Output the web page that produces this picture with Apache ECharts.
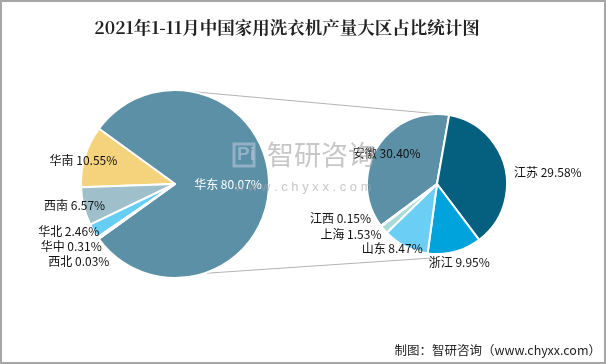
<!DOCTYPE html>
<html><head><meta charset="utf-8">
<script src="https://cdn.jsdelivr.net/npm/echarts@6/dist/echarts.min.js"></script>
<style>html,body{margin:0;padding:0;background:#fff}#c{width:606px;height:364px}</style>
</head><body><div id="c"></div>
<script>
const titleText = '2021年1-11月中国家用洗衣机产量大区占比统计图';
const regionNames = ['华东','华南','西南','华北','华中','西北'];
const regionValues = [80.07,10.55,6.57,2.46,0.31,0.03];
const provNames = ['安徽','江苏','浙江','山东','上海','江西'];
const provValues = [30.40,29.58,9.95,8.47,1.53,0.15];
const sourceText = '制图：智研咨询（www.chyxx.com）';

const regionColors = ['#5B90A6','#F5D27C','#9FBFCB','#66CDF3','#6FA8C8','#9CC3CF'];
const provColors = ['#5B90A6','#05607F','#00A3DC','#6BCEF5','#A8DCD8','#8CC8E0'];
// per-label nudges (layout only)
const regionNudge = [[3,0],[36,5],[27,-2],[17,-2],[16,-1],[19,0]];
const provNudge = [[-18,-11],[0,6],[-32,7],[24,-8],[-2,-8],[-3,-10]];

const L = {cx:175, cy:184, r:94};
const R = {cx:437, cy:184, r:70};
const W = {x:233, y:141};

const fontCJK = '"Microsoft YaHei","Noto Sans CJK SC",sans-serif';

function sum(a){return a.reduce((s,v)=>s+v,0);}
const startL = 144 + (sum(regionValues)-regionValues[0])/sum(regionValues)*360;
const startR = 80 + provValues[0]/sum(provValues)*360;

const chart = echarts.init(document.getElementById('c'));
const lblFmt = p => p.name + ' ' + p.value.toFixed(2) + '%';
function pt(c, ang){ const a = ang*Math.PI/180; return [c.cx + c.r*Math.cos(a), c.cy - c.r*Math.sin(a)]; }
const a1 = pt(L,79), a2 = pt(L,-72), b1 = pt(R,88), b2 = [R.cx-5, R.cy+R.r+4];
const wm = 'rgba(165,165,165,0.62)', wmBlue = 'rgba(185,200,220,0.6)';

chart.setOption({
  animation:false,
  title:{text:titleText,left:282,top:14,textAlign:'center',
    textStyle:{fontFamily:'"SimSun","Noto Serif CJK SC","Liberation Serif",serif',fontSize:17.5,fontWeight:'bold',color:'#222'}},
  graphic:[
    {type:'rect',shape:{x:1,y:1,width:604,height:362},style:{fill:'none',stroke:'#a6a6a6',lineWidth:2},z:-10},
    {type:'line',shape:{x1:a1[0],y1:a1[1],x2:b1[0],y2:b1[1]},style:{stroke:'#b3b3b3',lineWidth:1},z:-5},
    {type:'line',shape:{x1:a2[0],y1:a2[1],x2:b2[0],y2:b2[1]},style:{stroke:'#b3b3b3',lineWidth:1},z:-5},
    {type:'rect',zlevel:2,z:100,shape:{x:W.x+1,y:W.y+3,width:20,height:22},style:{fill:'none',stroke:wmBlue,lineWidth:3}},
    {type:'text',zlevel:2,z:100,x:W.x+4,y:W.y+4,style:{text:'Pi',font:'bold 19px sans-serif',fill:wmBlue}},
    {type:'text',zlevel:2,z:100,x:W.x+34,y:W.y,style:{text:'智研咨询',font:'27px '+fontCJK,fill:wm}},
    {type:'text',zlevel:2,z:100,x:W.x+2,y:W.y+40,style:{text:'w w w . c h y x x . c o m',font:'13px sans-serif',fill:wm}},
    {type:'text',right:5,top:344,style:{text:sourceText,font:'12.5px "SimSun","Noto Sans CJK SC",serif',fill:'#222'}}
  ],
  series:[
    {type:'pie',center:[L.cx,L.cy],radius:L.r,startAngle:startL,clockwise:false,
     avoidLabelOverlap:true,
     itemStyle:{borderColor:'#fff',borderWidth:2},
     label:{show:true,position:'outside',formatter:lblFmt,fontFamily:fontCJK,fontSize:12,color:'#111'},
     labelLine:{show:false,length:4,length2:0},
     labelLayout:p=>({dx:regionNudge[p.dataIndex][0],dy:regionNudge[p.dataIndex][1]}),
     data:regionNames.map((n,i)=>({name:n,value:regionValues[i],itemStyle:{color:regionColors[i]},
       label:i===0?{position:'inside',color:'#fff'}:undefined}))},
    {type:'pie',center:[R.cx,R.cy],radius:R.r,startAngle:startR,clockwise:true,
     avoidLabelOverlap:true,
     itemStyle:{borderColor:'#fff',borderWidth:2},
     label:{show:true,position:'outside',formatter:lblFmt,fontFamily:fontCJK,fontSize:12,color:'#111'},
     labelLine:{show:false,length:4,length2:0},
     labelLayout:p=>({dx:provNudge[p.dataIndex][0],dy:provNudge[p.dataIndex][1]}),
     data:provNames.map((n,i)=>({name:n,value:provValues[i],itemStyle:{color:provColors[i]},
       label:i===0?{position:'inside'}:undefined}))}
  ]
});
</script></body></html>
